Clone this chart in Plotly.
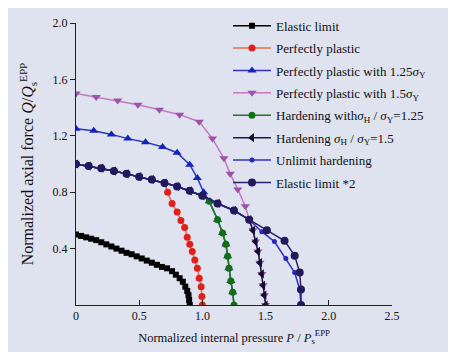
import plotly.graph_objects as go

# ---- data ----
elastic_x = [0, 0.04, 0.08, 0.12, 0.16, 0.20, 0.24, 0.28, 0.32, 0.36, 0.40, 0.44, 0.48, 0.52,
             0.56, 0.60, 0.64, 0.68, 0.72, 0.76, 0.79, 0.82, 0.845, 0.865, 0.88, 0.89, 0.895, 0.9]
elastic_y = [0.50, 0.49, 0.48, 0.47, 0.46, 0.445, 0.43, 0.415, 0.40, 0.385, 0.37, 0.36, 0.345, 0.33,
             0.315, 0.30, 0.285, 0.27, 0.26, 0.24, 0.215, 0.19, 0.165, 0.13, 0.10, 0.07, 0.035, 0.0]

el2_x = [0, 0.1, 0.2, 0.3, 0.4, 0.5, 0.6, 0.7, 0.8, 0.9, 1.0, 1.12, 1.25, 1.37, 1.51, 1.65, 1.73, 1.77, 1.78, 1.78]
el2_y = [1.0, 0.985, 0.97, 0.95, 0.93, 0.91, 0.89, 0.865, 0.84, 0.81, 0.775, 0.72, 0.67, 0.605, 0.53, 0.455, 0.35, 0.23, 0.11, 0.0]

pp_x = [0, 0.1, 0.2, 0.3, 0.4, 0.5, 0.6, 0.7, 0.725, 0.76, 0.80, 0.83, 0.86, 0.88, 0.90, 0.92, 0.94, 0.96, 0.975, 0.99, 0.996, 1.0]
pp_y = [1.0, 0.985, 0.97, 0.95, 0.93, 0.91, 0.89, 0.865, 0.80, 0.72, 0.66, 0.60, 0.55, 0.48, 0.43, 0.38, 0.32, 0.26, 0.19, 0.13, 0.06, 0.0]

pp125_x = [0, 0.14, 0.28, 0.41, 0.55, 0.685, 0.80, 0.90, 0.96, 1.01, 1.055, 1.12, 1.16, 1.186, 1.20, 1.21, 1.225, 1.24, 1.25]
pp125_y = [1.25, 1.235, 1.21, 1.18, 1.155, 1.12, 1.08, 0.995, 0.90, 0.80, 0.735, 0.605, 0.51, 0.43, 0.345, 0.26, 0.17, 0.09, 0.0]

pp15_x = [0, 0.16, 0.33, 0.49, 0.66, 0.82, 0.975, 1.08, 1.17, 1.22, 1.28, 1.34, 1.37, 1.40, 1.42, 1.44, 1.455, 1.47, 1.48, 1.49, 1.50]
pp15_y = [1.50, 1.475, 1.45, 1.42, 1.385, 1.35, 1.30, 1.18, 1.04, 0.93, 0.82, 0.70, 0.605, 0.53, 0.45, 0.38, 0.30, 0.22, 0.14, 0.07, 0.0]

h125_x = [0, 0.1, 0.2, 0.3, 0.4, 0.5, 0.6, 0.7, 0.8, 0.9, 1.0, 1.055, 1.12, 1.16, 1.186, 1.20, 1.21, 1.225, 1.24, 1.25]
h125_y = [1.0, 0.985, 0.97, 0.95, 0.93, 0.91, 0.89, 0.865, 0.84, 0.81, 0.775, 0.735, 0.605, 0.51, 0.43, 0.345, 0.26, 0.17, 0.09, 0.0]

h15_x = [0, 0.1, 0.2, 0.3, 0.4, 0.5, 0.6, 0.7, 0.8, 0.9, 1.0, 1.12, 1.25, 1.37, 1.40, 1.42, 1.44, 1.455, 1.47, 1.48, 1.49, 1.50]
h15_y = [1.0, 0.985, 0.97, 0.95, 0.93, 0.91, 0.89, 0.865, 0.84, 0.81, 0.775, 0.72, 0.67, 0.605, 0.53, 0.45, 0.38, 0.30, 0.22, 0.14, 0.07, 0.0]

unl_x = [0, 0.1, 0.2, 0.3, 0.4, 0.5, 0.6, 0.7, 0.8, 0.9, 1.0, 1.12, 1.25, 1.37, 1.47, 1.57, 1.66, 1.73, 1.77, 1.78]
unl_y = [1.0, 0.985, 0.97, 0.95, 0.93, 0.91, 0.89, 0.865, 0.84, 0.81, 0.775, 0.72, 0.67, 0.605, 0.52, 0.45, 0.33, 0.23, 0.11, 0.0]

x_ticks = [0, 0.5, 1.0, 1.5, 2.0, 2.5]
x_ticktext = ["0", "0.5", "1.0", "1.5", "2.0", "2.5"]
y_ticks = [0.4, 0.8, 1.2, 1.6, 2.0]
y_ticktext = ["0.4", "0.8", "1.2", "1.6", "2.0"]

sY = "<i>σ</i><sub>Y</sub>"
sH = "<i>σ</i><sub>H</sub>"

series = [
    ("Elastic limit", elastic_x, elastic_y, "#000000", "#000000", "square", 6),
    ("Perfectly plastic", pp_x, pp_y, "#e07050", "#e0201a", "circle", 7),
    ("Perfectly plastic with 1.25" + sY, pp125_x, pp125_y, "#2a36c0", "#1422c0", "triangle-up", 8),
    ("Perfectly plastic with 1.5" + sY, pp15_x, pp15_y, "#c47ac4", "#a052a8", "triangle-down", 8),
    ("Hardening with" + sH + " / " + sY + "=1.25", h125_x, h125_y, "#1e7a1e", "#127012", "circle", 7),
    ("Hardening " + sH + " / " + sY + "=1.5", h15_x, h15_y, "#1c1c3c", "#101030", "triangle-left", 8),
    ("Unlimit hardening", unl_x, unl_y, "#3232c8", "#2626c0", "circle", 5),
    ("Elastic limit *2", el2_x, el2_y, "#2c2070", "#22185c", "circle", 8),
]

fig = go.Figure()
for i, (name, xs, ys, lc, mc, sym, ms) in enumerate(series):
    fig.add_trace(go.Scatter(
        x=xs, y=ys, name=name, mode="lines+markers",
        line=dict(color=lc, width=1.5),
        marker=dict(color=mc, symbol=sym, size=ms),
        legendgroup="g%d" % i,
    ))

font_family = "Liberation Serif, Times New Roman, serif"
fig.update_layout(
    width=456, height=352,
    margin=dict(l=68, r=72, t=15, b=55, autoexpand=False),
    paper_bgcolor="#dfe2ef",
    plot_bgcolor="#dfe2ef",
    font=dict(family=font_family, size=12, color="#111111"),
    showlegend=True,
    legend=dict(
        x=0.481, y=0.712, xanchor="left", yanchor="middle",
        bgcolor="rgba(0,0,0,0)", font=dict(size=13, family=font_family, color="#111111"),
        itemwidth=38, tracegroupgap=2.5,
    ),
    xaxis=dict(
        range=[0, 2.5], tickvals=x_ticks, ticktext=x_ticktext,
        showline=True, linecolor="#222222", linewidth=1,
        ticks="inside", ticklen=5, tickcolor="#222222",
        showgrid=False, zeroline=False,
        tickfont=dict(size=12),
        title=dict(text="Normalized internal pressure <i>P</i> / <i>P</i><sub>s</sub><sup>EPP</sup>",
                   font=dict(size=12.5), standoff=10),
    ),
    yaxis=dict(
        range=[0, 2.0], tickvals=y_ticks, ticktext=y_ticktext,
        showline=True, linecolor="#222222", linewidth=1,
        ticks="outside", ticklen=5, tickcolor="#222222",
        showgrid=False, zeroline=False,
        tickfont=dict(size=12),
        title=dict(text="Normalized axial force <i>Q</i>/<i>Q</i><sub>s</sub><sup>EPP</sup>",
                   font=dict(size=16), standoff=14),
    ),
)

fig.write_html("out.html")
